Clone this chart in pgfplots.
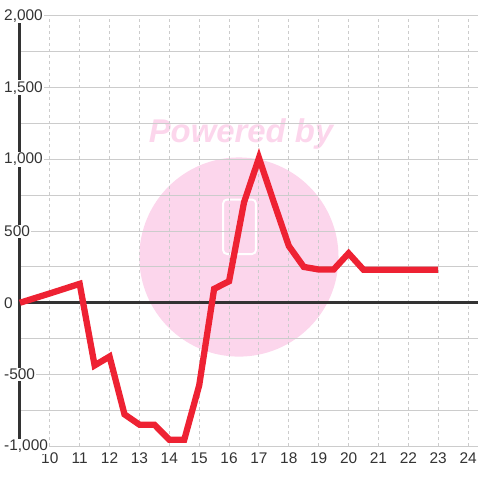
\documentclass[border=0pt]{standalone}
\usepackage{pgfplots}
\pgfplotsset{compat=1.18}
\usepackage{fontspec}
\setmainfont{Liberation Sans}
\definecolor{seriesred}{RGB}{238,34,51}
\definecolor{txtgray}{RGB}{51,51,51}
\definecolor{gridgray}{RGB}{204,204,204}
\definecolor{wmpink}{RGB}{252,214,236}

\begin{document}
\begin{tikzpicture}
\path (0pt,0pt) rectangle (480pt,480pt);
\begin{axis}[
    set layers=standard,
    at={(20pt,32pt)}, anchor=south west,
    scale only axis, width=460pt, height=432pt,
    xmin=9, xmax=24.333, ymin=-1000, ymax=2000,
    axis line style={draw=none},
    xtick={10,...,24},
    xticklabels={10,11,12,13,14,15,16,17,18,19,20,21,22,23,24},
    ytick={-1000,-500,0,500,1000,1500,2000},
    yticklabels={{-1,000},{-500},{0},{500},{1,000},{1,500},{2,000}},
    minor ytick={-750,-250,250,750,1250,1750},
    xmajorgrids, ymajorgrids, yminorgrids,
    major tick length=0pt, minor tick length=0pt,
    every axis x grid/.style={draw=gridgray, line width=1pt, dash pattern=on 3pt off 3pt},
    every axis y grid/.style={draw=gridgray, line width=1pt},
    minor grid style={draw=gridgray, line width=1pt, solid},
    tick label style={font=\fontsize{15.5}{18}\selectfont, text=txtgray},
    yticklabel style={anchor=west, xshift=-17pt, fill=white, inner sep=1pt},
    xticklabel style={yshift=-3pt},
    clip=false,
]
\begin{pgfonlayer}{axis background}
\fill[wmpink] (axis cs:16.33,319) circle[radius=100pt];
\draw[white, line width=2pt, rounded corners=4pt] (axis cs:15.8,340) rectangle (axis cs:16.9,720);
\node[text=wmpink, font=\fontsize{33}{36}\selectfont\bfseries\itshape] at (axis cs:16.4,1180) {Powered by};
\end{pgfonlayer}
\begin{pgfonlayer}{axis lines}
\draw[txtgray, line width=3pt] (axis cs:9,-1000) -- (axis cs:9,2000);
\draw[txtgray, line width=3pt] (axis cs:8.95,0) -- (axis cs:24.333,0);
\end{pgfonlayer}
\addplot[seriesred, line width=6.3pt, line join=miter, mark=none] coordinates {
(9,0) (10,65) (11,132) (11.5,-437) (12,-375) (12.5,-778) (13,-850) (13.5,-850)
(14,-955) (14.5,-955) (15,-576) (15.5,97) (16,150) (16.5,700) (17,1010)
(17.5,700) (18,396) (18.5,250) (19,232) (19.5,232) (20,345) (20.5,230)
(21,230) (21.5,230) (22,230) (22.5,230) (23,230)
};
\end{axis}
\end{tikzpicture}
\end{document}
